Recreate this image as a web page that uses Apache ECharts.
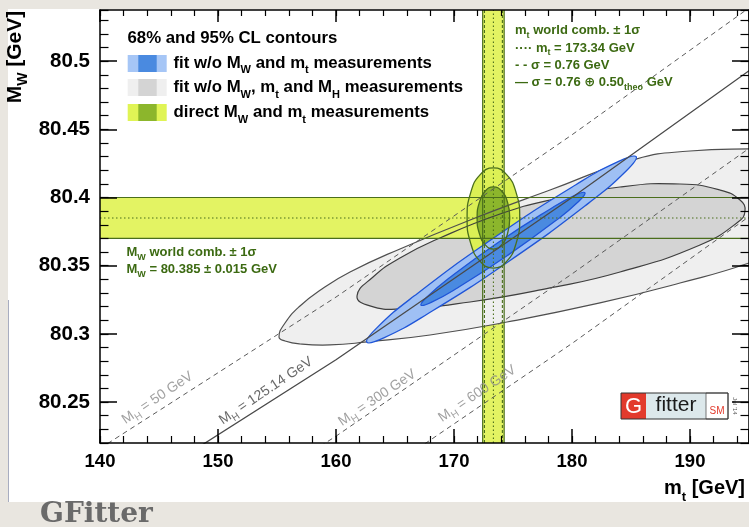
<!DOCTYPE html>
<html>
<head>
<meta charset="utf-8">
<script src="https://cdn.jsdelivr.net/npm/echarts@6.0.0/dist/echarts.min.js"></script>
<style>
html,body{margin:0;padding:0;background:#e9e6e0;overflow:hidden;}
#wrap{position:relative;width:749px;height:527px;}
#chart{position:absolute;left:0;top:0;width:749px;height:527px;}
#ticks{position:absolute;left:0;top:0;width:749px;height:527px;pointer-events:none;}
</style>
</head>
<body>
<div id="wrap"><div id="chart"></div><div id="ticks"></div></div>
<script>
// ---------- values ----------
const xTickLabels = [140, 150, 160, 170, 180, 190];
const yTickLabels = [80.25, 80.3, 80.35, 80.4, 80.45, 80.5];
const xRange = [140, 195];
const yRange = [80.22, 80.5375];

// MW world combination: lower, central, upper
const mwWorld = [80.370, 80.385, 80.400];
// mt world combination: -tot, -exp, central, +exp, +tot
const mtWorld = [172.43, 172.58, 173.34, 174.10, 174.25];

// SM lines for fixed MH (mt, MW)
const mh50  = [[140, 80.216], [160, 80.327], [180, 80.446], [195, 80.539]];
const mh125 = [[140, 80.171], [160, 80.281], [180, 80.400], [195, 80.493]];
const mh300 = [[140, 80.115], [160, 80.225], [180, 80.344], [195, 80.436]];
const mh600 = [[140, 80.065], [160, 80.175], [180, 80.293], [195, 80.386]];
const mhLabels = [[144.94, 80.2521, '50'], [154.13, 80.2572, '125.14'], [163.56, 80.2521, '300'], [172.03, 80.2552, '600']];

// 68% / 95% CL contours (mt, MW)
const greyOuter = [[155.17,80.2977],[155.68,80.3080],[156.95,80.3205],[158.81,80.3329],[161.19,80.3454],[165.42,80.3623],[171.36,80.3835],[178.14,80.4055],[185.42,80.4282],[190.0,80.4341],[195.0,80.4356],[198.47,80.4348],[200.85,80.4260],[202.12,80.4128],[202.03,80.3945],[200.59,80.3776],[198.47,80.3652],[195.0,80.3520],[189.15,80.3373],[182.37,80.3227],[174.49,80.3087],[167.97,80.2992],[162.63,80.2941],[159.49,80.2919],[156.95,80.2926],[155.68,80.2948]];
const greyInner = [[161.78,80.3278],[163.14,80.3417],[165.42,80.3557],[168.81,80.3703],[173.90,80.3879],[178.14,80.3982],[184.07,80.4077],[189.15,80.4099],[192.54,80.4055],[194.24,80.3982],[194.66,80.3901],[194.07,80.3820],[190.85,80.3652],[184.07,80.3454],[178.14,80.3337],[171.36,80.3234],[165.42,80.3183],[162.88,80.3205]];
const blueOuter = [[162.61,80.2939],[164.05,80.2971],[167.71,80.3144],[174.69,80.3535],[181.41,80.3959],[184.59,80.4194],[185.44,80.4299],[184.0,80.4267],[180.33,80.4094],[173.36,80.3703],[166.64,80.3279],[163.46,80.3044]];
const blueInner = [[167.20,80.3211],[168.07,80.3231],[170.29,80.3337],[174.53,80.3575],[178.63,80.3831],[180.58,80.3973],[181.10,80.4035],[180.24,80.4016],[178.02,80.3909],[173.77,80.3672],[169.68,80.3415],[167.73,80.3273]];
const greenOuter = [[175.57,80.385],[175.27,80.4034],[174.46,80.4168],[173.34,80.4217],[172.22,80.4168],[171.41,80.4034],[171.11,80.385],[171.41,80.3666],[172.22,80.3532],[173.34,80.3483],[174.46,80.3532],[175.27,80.3666]];
const greenInner = [[174.72,80.385],[174.54,80.3964],[174.03,80.4048],[173.34,80.4078],[172.65,80.4048],[172.15,80.3964],[171.96,80.385],[172.15,80.3736],[172.65,80.3653],[173.34,80.3622],[174.03,80.3653],[174.54,80.3736]];

// ---------- styling ----------
const SANS = '"Liberation Sans", Arial, Helvetica, "DejaVu Sans", sans-serif';
const BEIGE = '#e9e6e0';
const YEL = '#e3f363';
const DKGREEN = '#4a6e1c';
const TXTGREEN = '#3c6a12';
const GRID = { left: 100, top: 10, width: 649, height: 433, containLabel: false, outerBoundsMode: 'none' };

const vBand = [[mtWorld[0], yRange[0]], [mtWorld[4], yRange[0]], [mtWorld[4], yRange[1]], [mtWorld[0], yRange[1]]];
const hBandLeft = [[xRange[0], mwWorld[0]], [mtWorld[2], mwWorld[0]], [mtWorld[2], mwWorld[2]], [xRange[0], mwWorld[2]]];
const vline = x => [[x, yRange[0]], [x, yRange[1]]];
const hline = y => [[xRange[0], y], [xRange[1], y]];

function poly(pts, style, z, smooth) {
  return {
    type: 'custom', coordinateSystem: 'cartesian2d', clip: true, silent: true, z: z,
    data: pts,
    renderItem: function (params, api) {
      if (params.dataIndexInside !== 0) return null;
      const n = params.dataInsideLength;
      const points = [];
      for (let i = 0; i < n; i++) points.push(api.coord([api.value(0, i), api.value(1, i)]));
      return { type: 'polygon', shape: { points: points, smooth: smooth || 0 },
               style: Object.assign({ fill: 'none' }, style) };
    }
  };
}
function lineS(pts, color, width, dash, z) {
  return { type: 'line', data: pts, symbol: 'none', silent: true, clip: true, z: z,
           lineStyle: { color: color, width: width, type: dash || 'solid' } };
}
function labelS(rows, color, z) {
  return {
    type: 'scatter', symbolSize: 0, silent: true, z: z,
    data: rows.map(d => ({ value: [d[0], d[1]], name: d[2] })),
    label: {
      show: true, position: 'inside', rotate: 34, color: color,
      formatter: p => '{m|M}{s|H}{m| = ' + p.name + ' GeV}',
      rich: {
        m: { fontSize: 14, fontFamily: SANS, color: color, verticalAlign: 'bottom', padding: [0, 0, 3, 0] },
        s: { fontSize: 10, fontFamily: SANS, color: color, verticalAlign: 'bottom' }
      }
    }
  };
}

const richMain = (size, sub, shift) => ({
  a: { fontSize: size, fontWeight: 'bold', fontFamily: SANS, verticalAlign: 'bottom', padding: [0, 0, shift, 0] },
  s: { fontSize: sub, fontWeight: 'bold', fontFamily: SANS, verticalAlign: 'bottom' }
});
function rtext(x, y, text, size, sub, shift, color) {
  return {
    type: 'text', x: x, y: y, silent: true, z: 60,
    style: { text: text, fill: color, align: 'left', verticalAlign: 'middle', rich: richMain(size, sub, shift) }
  };
}

const frame = { show: true, onZero: false, lineStyle: { color: '#000', width: 1.5 } };
function axis(pos, opts) {
  return Object.assign({
    type: 'value', position: pos, z: 30,
    splitLine: { show: false }, axisLine: frame, axisTick: { show: false }, axisLabel: { show: false }
  }, opts);
}

const option = {
  animation: false,
  backgroundColor: BEIGE,
  grid: GRID,
  xAxis: [
    axis('bottom', { min: xRange[0], max: xRange[1], interval: 10,
      axisLabel: { show: true, margin: 9, fontSize: 18.5, fontWeight: 'bold', color: '#000', fontFamily: SANS,
                   formatter: v => (xTickLabels.indexOf(v) >= 0 ? String(v) : '') } }),
    axis('top', { min: xRange[0], max: xRange[1], interval: 10 })
  ],
  yAxis: [
    axis('left', { min: yRange[0], max: yRange[1],
      axisLabel: { show: true, customValues: yTickLabels, margin: 10, fontSize: 20.5, fontWeight: 'bold', color: '#000',
                   fontFamily: SANS, formatter: v => String(v) } }),
    axis('right', { min: yRange[0], max: yRange[1] })
  ],
  series: [
    poly(vBand, { fill: YEL }, 1, 0),
    poly(greyOuter, { fill: '#efefef' }, 2, 0.5),
    poly(greyInner, { fill: '#d4d4d4' }, 2, 0.5),
    poly(hBandLeft, { fill: YEL }, 3, 0),
    poly(greenOuter, { fill: '#dcf055' }, 4, 0.5),
    poly(greenInner, { fill: '#8cb62c' }, 4, 0.5),
    poly(greyOuter, { stroke: '#4f4f4f', lineWidth: 1.2 }, 5, 0.5),
    poly(greyInner, { stroke: '#3f3f3f', lineWidth: 1.2 }, 5, 0.5),
    poly(blueOuter, { fill: '#9fc0f4', stroke: '#1f55d8', lineWidth: 1.3 }, 6, 0.5),
    poly(blueInner, { fill: '#4a8ae0', stroke: '#1f55d8', lineWidth: 1.3 }, 6, 0.5),
    poly(greenOuter, { stroke: DKGREEN, lineWidth: 1.3 }, 7, 0.5),
    poly(greenInner, { stroke: DKGREEN, lineWidth: 1.3 }, 7, 0.5),
    lineS(mh50, '#5a5a5a', 1, [5, 4], 8),
    lineS(mh125, '#4a4a4a', 1.3, 'solid', 8),
    lineS(mh300, '#5a5a5a', 1, [5, 4], 8),
    lineS(mh600, '#5a5a5a', 1, [5, 4], 8),
    lineS(hline(mwWorld[0]), DKGREEN, 1.2, 'solid', 9),
    lineS(hline(mwWorld[2]), DKGREEN, 1.2, 'solid', 9),
    lineS(hline(mwWorld[1]), DKGREEN, 1.2, [1.5, 2.5], 9),
    lineS(vline(mtWorld[0]), DKGREEN, 1.2, 'solid', 9),
    lineS(vline(mtWorld[4]), DKGREEN, 1.2, 'solid', 9),
    lineS(vline(mtWorld[1]), DKGREEN, 1.1, [3, 2], 9),
    lineS(vline(mtWorld[3]), DKGREEN, 1.1, [3, 2], 9),
    lineS(vline(mtWorld[2]), DKGREEN, 1.1, [1.5, 2.5], 9),
    labelS(mhLabels.filter(d => d[2] !== '125.14'), '#8a8a8a', 10),
    labelS(mhLabels.filter(d => d[2] === '125.14'), '#444444', 10)
  ],
  graphic: { elements: [
    { type: 'rect', shape: { x: 8, y: 9, width: 741, height: 493 }, style: { fill: '#ffffff' }, z: -100, silent: true },
    { type: 'line', shape: { x1: 8.5, y1: 300, x2: 8.5, y2: 502 }, style: { stroke: '#a8adc0', lineWidth: 1 }, z: -99, silent: true },

    // legend
    { type: 'text', x: 127.5, y: 38.5, z: 60, silent: true,
      style: { text: '68% and 95% CL contours', fill: '#000', font: 'bold 16.8px ' + SANS, align: 'left', verticalAlign: 'middle' } },
    { type: 'rect', shape: { x: 127.7, y: 55, width: 39, height: 17 }, style: { fill: '#a6c6f6' }, z: 60 },
    { type: 'rect', shape: { x: 138.3, y: 55, width: 18.4, height: 17 }, style: { fill: '#4a8ae0' }, z: 61 },
    { type: 'rect', shape: { x: 127.7, y: 79, width: 39, height: 17 }, style: { fill: '#efefef' }, z: 60 },
    { type: 'rect', shape: { x: 138.3, y: 79, width: 18.4, height: 17 }, style: { fill: '#d4d4d4' }, z: 61 },
    { type: 'rect', shape: { x: 127.7, y: 104, width: 39, height: 17 }, style: { fill: '#e0f455' }, z: 60 },
    { type: 'rect', shape: { x: 138.3, y: 104, width: 18.4, height: 17 }, style: { fill: '#8cb62c' }, z: 61 },
    rtext(173.5, 65, '{a|fit w/o M}{s|W}{a| and m}{s|t}{a| measurements}', 16.8, 11, 4, '#000'),
    rtext(173.5, 89.5, '{a|fit w/o M}{s|W}{a|, m}{s|t}{a| and M}{s|H}{a| measurements}', 16.8, 11, 4, '#000'),
    rtext(173.5, 114.5, '{a|direct M}{s|W}{a| and m}{s|t}{a| measurements}', 16.8, 11, 4, '#000'),

    // mt world combination block
    rtext(515, 32, '{a|m}{s|t}{a| world comb. \u00b1 1\u03c3}', 13, 9, 3, TXTGREEN),
    rtext(515, 49.5, '{a|\u00b7\u00b7\u00b7\u00b7 m}{s|t}{a| = 173.34 GeV}', 13, 9, 3, TXTGREEN),
    rtext(515, 66.5, '{a|- - \u03c3 = 0.76 GeV}', 13, 9, 3, TXTGREEN),
    rtext(515, 84, '{a|\u2014 \u03c3 = 0.76 \u2295 0.50}{s|theo}{a| GeV}', 13, 9, 3, TXTGREEN),

    // MW world combination block
    rtext(126.5, 254, '{a|M}{s|W}{a| world comb. \u00b1 1\u03c3}', 13, 9, 3, TXTGREEN),
    rtext(126.5, 271, '{a|M}{s|W}{a| = 80.385 \u00b1 0.015 GeV}', 13, 9, 3, TXTGREEN),

    // axis titles
    { type: 'text', x: 17.5, y: 57, rotation: Math.PI / 2, z: 60, silent: true,
      style: { text: '{a|M}{s|W}{a| [GeV]}', fill: '#000', align: 'center', verticalAlign: 'middle', rich: richMain(21, 14, 5) } },
    { type: 'text', x: 745, y: 491, z: 60, silent: true,
      style: { text: '{a|m}{s|t}{a| [GeV]}', fill: '#000', align: 'right', verticalAlign: 'middle', rich: richMain(20, 13, 5) } },

    // Gfitter logo
    { type: 'rect', shape: { x: 621, y: 393, width: 25, height: 26 }, style: { fill: '#e23a2c' }, z: 60 },
    { type: 'rect', shape: { x: 646, y: 393, width: 60, height: 26 }, style: { fill: '#dce8eb' }, z: 60 },
    { type: 'rect', shape: { x: 706, y: 393, width: 22, height: 26 }, style: { fill: '#ffffff', stroke: '#555', lineWidth: 0.8 }, z: 60 },
    { type: 'rect', shape: { x: 621, y: 393, width: 107, height: 26 }, style: { fill: 'none', stroke: '#333', lineWidth: 1 }, z: 62 },
    { type: 'text', x: 633.5, y: 406.5, z: 63, silent: true,
      style: { text: 'G', fill: '#ffffff', font: '22px ' + SANS, align: 'center', verticalAlign: 'middle' } },
    { type: 'text', x: 676, y: 405.5, z: 63, silent: true,
      style: { text: 'fitter', fill: '#1a1a1a', font: '21px ' + SANS, align: 'center', verticalAlign: 'middle' } },
    { type: 'text', x: 717, y: 411, z: 63, silent: true,
      style: { text: 'SM', fill: '#e23a2c', font: '10px ' + SANS, align: 'center', verticalAlign: 'middle' } },
    { type: 'text', x: 735, y: 406, rotation: -Math.PI / 2, z: 63, silent: true,
      style: { text: 'Jul \u201914', fill: '#555', font: '6px ' + SANS, align: 'center', verticalAlign: 'middle' } },

    // caption below the panel
    { type: 'text', x: 40, y: 515, z: 60, silent: true,
      style: { text: 'GFitter', fill: '#6a6a6a', font: 'bold 28px "DejaVu Serif", "Liberation Serif", serif', align: 'left', verticalAlign: 'middle' } },

    // beige strip above the panel (clips the y title)
    { type: 'rect', shape: { x: 0, y: 0, width: 749, height: 9 }, style: { fill: BEIGE }, z: 100, silent: true }
  ] }
};

const chart = echarts.init(document.getElementById('chart'));
chart.setOption(option);

// ---------- tick marks: a transparent overlay chart with the same grid and axis scales ----------
function tickAxis(pos, extra, len, w) {
  return Object.assign({
    type: 'value', position: pos, splitLine: { show: false },
    axisLine: { show: false, onZero: false }, axisLabel: { show: false },
    axisTick: { show: true, inside: true, length: len, lineStyle: { color: '#000', width: w } }
  }, extra);
}
const tickChart = echarts.init(document.getElementById('ticks'));
tickChart.setOption({
  animation: false,
  grid: GRID,
  xAxis: [
    tickAxis('bottom', { min: xRange[0], max: xRange[1], interval: 10 }, 14, 1.5),
    tickAxis('bottom', { min: xRange[0], max: xRange[1], interval: 2 }, 7, 1.2),
    tickAxis('top', { min: xRange[0], max: xRange[1], interval: 10 }, 12, 1.5),
    tickAxis('top', { min: xRange[0], max: xRange[1], interval: 2 }, 6, 1.2)
  ],
  yAxis: [
    tickAxis('left', { min: yRange[0], max: yRange[1] }, 17, 1.5),
    tickAxis('left', { min: yRange[0], max: yRange[1], interval: 0.01 }, 8.5, 1.2),
    tickAxis('right', { min: yRange[0], max: yRange[1] }, 17, 1.5),
    tickAxis('right', { min: yRange[0], max: yRange[1], interval: 0.01 }, 8.5, 1.2)
  ].map((a, i) => (i % 2 === 0 ? Object.assign(a, { axisTick: Object.assign(a.axisTick, { customValues: yTickLabels }) }) : a)),
  series: [{ type: 'line', data: [], symbol: 'none' }]
});
</script>
</body>
</html>
